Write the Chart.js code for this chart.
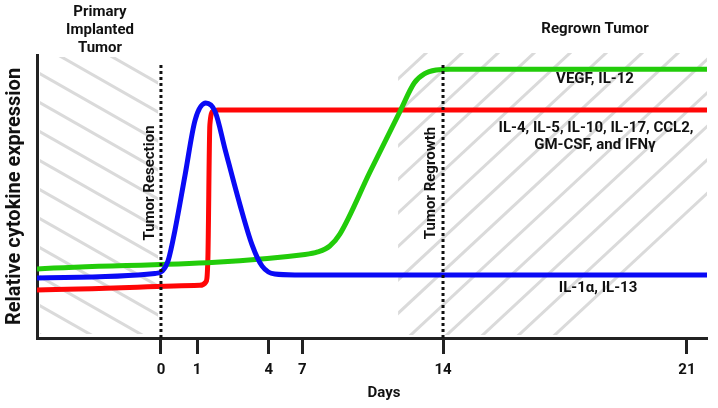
<!DOCTYPE html>
<html>
<head>
<meta charset="utf-8">
<script src="https://cdn.jsdelivr.net/npm/chart.js@4/dist/chart.umd.min.js"></script>
<style>
  body { margin: 0; background: #fff; }
  canvas { display: block; }
</style>
</head>
<body>
<canvas id="myCanvas" width="718" height="408"></canvas>
<script>
// axis units: x runs 0..100 along the (non linear) time axis, y 0..100 is relative expression
var dayLabels = ['0', '1', '4', '7', '14', '21'];
var dayPos = [18.5, 23.9, 34.6, 39.6, 60.6, 97.0];

var vegfX = [0, 40.0, 41.9, 43.7, 45.2, 49.7, 54.2, 56.3, 57.8, 59.6, 61.6, 100];
var vegfY = [24.4, 29.5, 30.4, 32.5, 36.7, 58.7, 80.2, 90.1, 93.3, 94.7, 95.0, 95.0];

var il4X = [0, 24.3, 25.2, 25.5, 25.8, 26.3, 27.0, 100];
var il4Y = [17.0, 18.6, 19.8, 27.6, 75.3, 80.2, 80.6, 80.6];

var il1X = [0, 17.6, 18.7, 19.6, 20.6, 22.1, 23.6, 25.2, 26.6, 28.1, 30.3, 32.1, 33.6, 35.5, 38.5, 100];
var il1Y = [21.2, 22.8, 23.7, 27.6, 38.2, 57.6, 77.0, 83.0, 79.9, 66.4, 47.0, 32.9, 25.4, 22.6, 22.3, 22.3];

var resectionDay = 0;   // index into dayPos
var regrowthDay = 4;

function toPoints(xs, ys) {
    var pts = [];
    for (var i = 0; i < xs.length; i++) {
        pts.push({x: xs[i], y: ys[i]});
    }
    return pts;
}

var font = 'Roboto';
var textColor = '#111';

var decorPlugin = {
    id: 'decor',
    beforeDatasetsDraw: function(chart) {
        var ctx = chart.ctx;
        var a = chart.chartArea;
        var xs = chart.scales.x;
        var i, x0, y0;
        ctx.save();
        ctx.strokeStyle = '#dadada';
        ctx.lineWidth = 3;

        // left hatch (primary tumor)
        ctx.save();
        ctx.beginPath();
        ctx.rect(a.left + 3, a.top + 2, xs.getPixelForValue(dayPos[resectionDay]) - a.left - 6, a.bottom - a.top - 6);
        ctx.clip();
        for (i = -12; i < 14; i++) {
            y0 = 72 + 29 * i;
            ctx.beginPath();
            ctx.moveTo(a.left, y0);
            ctx.lineTo(a.left + 300, y0 + 0.57 * 300);
            ctx.stroke();
        }
        ctx.restore();

        // right hatch (regrown tumor)
        ctx.save();
        ctx.beginPath();
        ctx.rect(xs.getPixelForValue(53.9), a.top - 2, a.right - xs.getPixelForValue(53.9), a.bottom - a.top - 1);
        ctx.clip();
        for (i = -12; i < 12; i++) {
            x0 = 462 + 36 * i;
            ctx.beginPath();
            ctx.moveTo(x0 - 400, a.top - 2 + 0.93 * 400);
            ctx.lineTo(x0 + 400, a.top - 2 - 0.93 * 400);
            ctx.stroke();
        }
        ctx.restore();
        ctx.restore();
    },
    afterDatasetsDraw: function(chart) {
        var ctx = chart.ctx;
        var a = chart.chartArea;
        var xs = chart.scales.x;
        var xr = xs.getPixelForValue(dayPos[resectionDay]);
        var xg = xs.getPixelForValue(dayPos[regrowthDay]);
        ctx.save();
        // dotted event lines
        ctx.strokeStyle = '#111';
        ctx.lineWidth = 3;
        ctx.setLineDash([3, 3]);
        [xr, xg].forEach(function(px) {
            ctx.beginPath();
            ctx.moveTo(px, a.top + 10);
            ctx.lineTo(px, a.bottom);
            ctx.stroke();
        });
        ctx.setLineDash([]);

        ctx.fillStyle = textColor;
        ctx.font = 'bold 15px ' + font;
        ctx.textAlign = 'center';
        ctx.textBaseline = 'middle';
        ctx.fillText('Primary', 100, 12);
        ctx.fillText('Implanted', 100, 30);
        ctx.fillText('Tumor', 100, 48);
        ctx.fillText('Regrown Tumor', 595, 29);
        ctx.fillText('VEGF, IL-12', 595, 79);
        ctx.fillText('IL-4, IL-5, IL-10, IL-17, CCL2,', 596, 128);
        ctx.fillText('GM-CSF, and IFN\u03b3', 595, 145);
        ctx.fillText('IL-1\u03b1, IL-13', 598, 288);
        ctx.fillText('Days', 384, 393);

        ctx.save();
        ctx.translate(xr - 11, 183);
        ctx.rotate(-Math.PI / 2);
        ctx.fillText('Tumor Resection', 0, 0);
        ctx.restore();
        ctx.save();
        ctx.translate(xg - 12, 183);
        ctx.rotate(-Math.PI / 2);
        ctx.fillText('Tumor Regrowth', 0, 0);
        ctx.restore();
        ctx.restore();
    }
};

var ctx = document.getElementById('myCanvas').getContext('2d');
var chart = new Chart(ctx, {
    type: 'line',
    data: {
        datasets: [{
            label: 'IL-1\u03b1, IL-13',
            data: toPoints(il1X, il1Y),
            borderColor: '#0a0af5',
            order: 0
        }, {
            label: 'VEGF, IL-12',
            data: toPoints(vegfX, vegfY),
            borderColor: '#22cc0a',
            order: 1
        }, {
            label: 'IL-4, IL-5, IL-10, IL-17, CCL2, GM-CSF, and IFN\u03b3',
            data: toPoints(il4X, il4Y),
            borderColor: '#ff0606',
            order: 2
        }]
    },
    options: {
        responsive: false,
        devicePixelRatio: 1,
        animation: false,
        layout: { padding: { top: 55, right: 11, left: 0, bottom: 0 } },
        elements: {
            point: { radius: 0 },
            line: { borderWidth: 5, cubicInterpolationMode: 'monotone', fill: false }
        },
        plugins: {
            legend: { display: false },
            tooltip: { enabled: false }
        },
        scales: {
            x: {
                type: 'linear',
                min: 0,
                max: 100,
                afterBuildTicks: function(scale) {
                    scale.ticks = dayPos.map(function(v) { return {value: v}; });
                },
                afterFit: function(scale) { scale.height = 70; },
                ticks: {
                    autoSkip: false,
                    maxRotation: 0,
                    padding: 7,
                    color: textColor,
                    font: { family: font, size: 15, weight: 'bold' },
                    callback: function(v, i) { return dayLabels[i]; }
                },
                grid: { drawOnChartArea: false, tickLength: 16, tickWidth: 3, tickColor: '#222' },
                border: { width: 3, color: '#222' }
            },
            y: {
                min: 0,
                max: 100,
                afterFit: function(scale) { scale.width = 37; },
                ticks: { display: false },
                grid: { display: false },
                border: { width: 3, color: '#222' },
                title: {
                    display: true,
                    text: 'Relative cytokine expression',
                    color: textColor,
                    font: { family: font, size: 20, weight: 'bold' },
                    padding: { top: 3, bottom: 0 }
                }
            }
        }
    },
    plugins: [decorPlugin]
});
</script>
</body>
</html>
